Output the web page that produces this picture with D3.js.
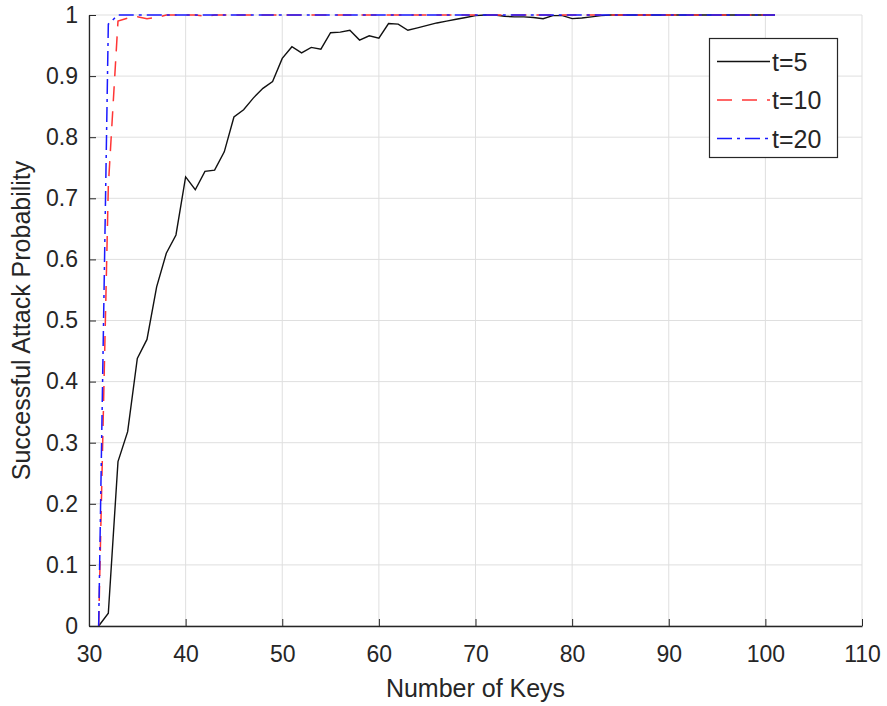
<!DOCTYPE html>
<html>
<head>
<meta charset="utf-8">
<script src="https://cdn.jsdelivr.net/npm/d3@7"></script>
<style>
  body { margin: 0; background: #fff; }
  svg { display: block; }
  text { font-family: "Liberation Sans", Arial, sans-serif; fill: #262626; }
</style>
</head>
<body>
<svg width="887" height="706"></svg>
<script>
// number of keys (x values)
var keys = [31, 32, 33, 34, 35, 36, 37, 38, 39, 40,
            41, 42, 43, 44, 45, 46, 47, 48, 49, 50,
            51, 52, 53, 54, 55, 56, 57, 58, 59, 60,
            61, 62, 63, 64, 65, 66, 67, 68, 69, 70,
            71, 72, 73, 74, 75, 76, 77, 78, 79, 80,
            81, 82, 83, 84, 85, 86, 87, 88, 89, 90,
            91, 92, 93, 94, 95, 96, 97, 98, 99, 100, 101];

var t5 = [0, 0.021, 0.269, 0.318, 0.438, 0.469, 0.555, 0.610, 0.640, 0.735,
          0.714, 0.744, 0.746, 0.776, 0.833, 0.845, 0.864, 0.880, 0.891, 0.929,
          0.948, 0.938, 0.947, 0.944, 0.971, 0.972, 0.975, 0.959, 0.966, 0.962,
          0.986, 0.985, 0.975, 0.979, 0.983, 0.987, 0.990, 0.993, 0.996, 0.999,
          1, 1, 0.998, 0.997, 0.997, 0.996, 0.994, 0.999, 0.999, 0.994,
          0.995, 0.997, 0.999, 1, 1, 1, 1, 1, 1, 1,
          1, 1, 1, 1, 1, 1, 1, 1, 1, 1, 1];

var t10 = [0, 0.72, 0.99, 0.995, 0.997, 0.994, 0.996, 1, 1, 1,
           1, 0.998, 1, 1, 1, 1, 1, 1, 1, 1,
           1, 1, 1, 1, 1, 1, 1, 1, 1, 1,
           1, 1, 1, 1, 1, 1, 1, 1, 1, 1,
           1, 1, 1, 1, 1, 1, 1, 1, 1, 1,
           1, 1, 1, 1, 1, 1, 1, 1, 1, 1,
           1, 1, 1, 1, 1, 1, 1, 1, 1, 1, 1];

var t20 = [0, 0.985, 1, 1, 1, 1, 1, 1, 1, 1,
           1, 1, 1, 1, 1, 1, 1, 1, 1, 1,
           1, 1, 1, 1, 1, 1, 1, 1, 1, 1,
           1, 1, 1, 1, 1, 1, 1, 1, 1, 1,
           1, 1, 1, 1, 1, 1, 1, 1, 1, 1,
           1, 1, 1, 1, 1, 1, 1, 1, 1, 1,
           1, 1, 1, 1, 1, 1, 1, 1, 1, 1, 1];

var seriesNames = ["t=5", "t=10", "t=20"];
var xTicks = [30, 40, 50, 60, 70, 80, 90, 100, 110];
var yTicks = [0, 0.1, 0.2, 0.3, 0.4, 0.5, 0.6, 0.7, 0.8, 0.9, 1];

var styles = [
  { color: "#111111", dash: null, width: 1.4 },
  { color: "#ff3535", dash: "15,10", width: 1.5 },
  { color: "#1a1aff", dash: "15,5,3,5", width: 1.5 }
];

var svg = d3.select("svg");
var pLeft = 89, pRight = 862, pTop = 15, pBottom = 626;

var x = d3.scaleLinear().domain([30, 110]).range([pLeft, pRight]);
var y = d3.scaleLinear().domain([0, 1]).range([pBottom, pTop]);

// grid
var grid = svg.append("g").attr("class", "grid");
grid.selectAll(".gx").data(xTicks).enter().append("line")
    .attr("x1", function(d) { return x(d); }).attr("x2", function(d) { return x(d); })
    .attr("y1", pTop).attr("y2", pBottom)
    .attr("stroke", "#dfdfdf").attr("stroke-width", 1);
grid.selectAll(".gy").data(yTicks).enter().append("line")
    .attr("x1", pLeft).attr("x2", pRight)
    .attr("y1", function(d) { return y(d); }).attr("y2", function(d) { return y(d); })
    .attr("stroke", "#dfdfdf").attr("stroke-width", 1);

// lines
var line = d3.line()
    .x(function(d) { return x(d[0]); })
    .y(function(d) { return y(d[1]); });

[t5, t10, t20].forEach(function(vals, i) {
  svg.append("path")
     .attr("d", line(keys.map(function(k, j) { return [k, vals[j]]; })))
     .attr("fill", "none")
     .attr("stroke", styles[i].color)
     .attr("stroke-width", styles[i].width)
     .attr("stroke-dasharray", styles[i].dash);
});

// axes
var xAxis = d3.axisBottom(x).tickValues(xTicks).tickSizeInner(-7).tickSizeOuter(0).tickPadding(20);
var yAxis = d3.axisLeft(y).tickValues(yTicks).tickSizeInner(-7).tickSizeOuter(0).tickPadding(11)
    .tickFormat(function(d) { return d === 0 || d === 1 ? d3.format("d")(d) : d3.format(".1f")(d); });

var gx = svg.append("g").attr("transform", "translate(0," + pBottom + ")").call(xAxis);
var gy = svg.append("g").attr("transform", "translate(" + pLeft + ",0)").call(yAxis);
[gx, gy].forEach(function(g) {
  g.select(".domain").attr("stroke", "#262626").attr("stroke-width", 1.3);
  g.selectAll(".tick line").attr("stroke", "#262626").attr("stroke-width", 1);
  g.selectAll(".tick text").attr("font-size", 23).attr("fill", "#262626")
   .attr("font-family", "Liberation Sans, Arial, sans-serif");
});

svg.append("text")
   .attr("x", (pLeft + pRight) / 2).attr("y", 697)
   .attr("text-anchor", "middle").attr("font-size", 25)
   .text("Number of Keys");

svg.append("text")
   .attr("transform", "translate(30," + (pTop + pBottom) / 2 + ") rotate(-90)")
   .attr("text-anchor", "middle").attr("font-size", 25)
   .text("Successful Attack Probability");

// legend
var legend = svg.append("g").attr("class", "legend");
legend.append("rect")
   .attr("x", 709.5).attr("y", 38.5).attr("width", 128).attr("height", 119)
   .attr("fill", "#fff").attr("stroke", "#262626").attr("stroke-width", 1.2);
seriesNames.forEach(function(name, i) {
  var ly = 61.5 + i * 38.5;
  legend.append("line")
     .attr("x1", 717).attr("x2", 770).attr("y1", ly).attr("y2", ly)
     .attr("stroke", styles[i].color).attr("stroke-width", styles[i].width)
     .attr("stroke-dasharray", styles[i].dash);
  legend.append("text")
     .attr("x", 772).attr("y", ly).attr("dy", "0.36em")
     .attr("font-size", 25)
     .text(name);
});
</script>
</body>
</html>
